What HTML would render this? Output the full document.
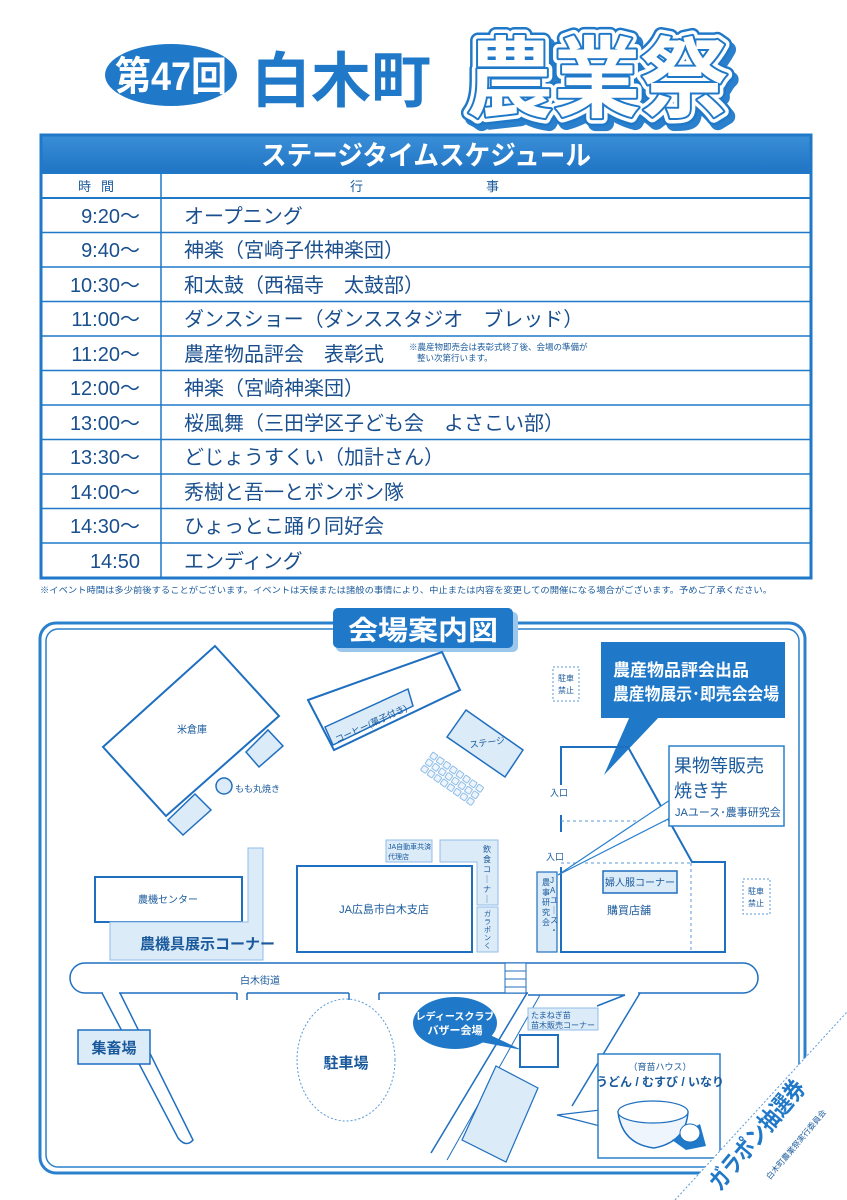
<!DOCTYPE html>
<html><head><meta charset="utf-8">
<style>
html,body{margin:0;padding:0;background:#fff;}
body{width:847px;height:1200px;position:relative;overflow:hidden;font-family:"Liberation Sans","Noto Sans CJK JP",sans-serif;color:#1a5a9c;}
</style></head><body>
<svg width="847" height="1200" viewBox="0 0 847 1200" style="position:absolute;left:0;top:0" font-family="Liberation Sans, Noto Sans CJK JP, sans-serif">
<defs>
<linearGradient id="hb" x1="0" y1="0" x2="0" y2="1"><stop offset="0" stop-color="#3b8fd8"/><stop offset="1" stop-color="#1f74c4"/></linearGradient>
</defs>
<!-- Header -->
<ellipse cx="171" cy="75" rx="66" ry="31" fill="#1f78c8"/>
<text x="171" y="90" text-anchor="middle" font-size="40" font-weight="bold" fill="#fff" textLength="112" lengthAdjust="spacingAndGlyphs">第47回</text>
<text x="341" y="102" text-anchor="middle" font-size="60" font-weight="bold" fill="#1f78c8" textLength="180" lengthAdjust="spacingAndGlyphs">白木町</text>
<text x="597" y="110" text-anchor="middle" font-size="88" font-weight="bold" fill="#2a80cc" stroke="#2a80cc" stroke-width="16" stroke-linejoin="round" textLength="262" lengthAdjust="spacingAndGlyphs" transform="translate(4,5)">農業祭</text>
<text x="597" y="110" text-anchor="middle" font-size="88" font-weight="bold" fill="#fff" stroke="#1f78c8" stroke-width="16" stroke-linejoin="round" textLength="262" lengthAdjust="spacingAndGlyphs">農業祭</text>
<text x="597" y="110" text-anchor="middle" font-size="88" font-weight="bold" fill="#fff" stroke="#fff" stroke-width="11" stroke-linejoin="round" textLength="262" lengthAdjust="spacingAndGlyphs">農業祭</text>
<text x="597" y="110" text-anchor="middle" font-size="88" font-weight="bold" fill="#fff" stroke="#1f78c8" stroke-width="4" stroke-linejoin="round" textLength="262" lengthAdjust="spacingAndGlyphs" paint-order="stroke">農業祭</text>

<!-- Table -->
<rect x="40" y="135" width="772" height="38" fill="url(#hb)"/>
<text x="426" y="165" text-anchor="middle" font-size="27" font-weight="bold" fill="#fff" textLength="330" lengthAdjust="spacingAndGlyphs">ステージタイムスケジュール</text>
<rect x="41" y="135" width="770" height="443" fill="none" stroke="#1f78c8" stroke-width="3"/>
<line x1="41" y1="173" x2="811" y2="173" stroke="#1f78c8" stroke-width="2"/>
<line x1="41" y1="198" x2="811" y2="198" stroke="#1f78c8" stroke-width="2"/>
<line x1="161" y1="173" x2="161" y2="578" stroke="#1f78c8" stroke-width="1.5"/>
<text x="101" y="191" text-anchor="middle" font-size="13" fill="#1a5a9c" letter-spacing="10">時間</text>
<text x="350" y="191" font-size="13" fill="#1a5a9c">行</text>
<text x="486" y="191" font-size="13" fill="#1a5a9c">事</text>
<g stroke="#1f78c8" stroke-width="1.5">
<line x1="41" y1="232.5" x2="811" y2="232.5"/><line x1="41" y1="267" x2="811" y2="267"/><line x1="41" y1="301.5" x2="811" y2="301.5"/><line x1="41" y1="336" x2="811" y2="336"/><line x1="41" y1="370.5" x2="811" y2="370.5"/><line x1="41" y1="405" x2="811" y2="405"/><line x1="41" y1="439.5" x2="811" y2="439.5"/><line x1="41" y1="474" x2="811" y2="474"/><line x1="41" y1="508.5" x2="811" y2="508.5"/><line x1="41" y1="543" x2="811" y2="543"/>
</g>
<g font-size="20" fill="#1a4f8e">
<text x="140" y="223" text-anchor="end">9:20～</text><text x="184" y="223">オープニング</text>
<text x="140" y="257" text-anchor="end">9:40～</text><text x="184" y="257">神楽（宮崎子供神楽団）</text>
<text x="140" y="292" text-anchor="end">10:30～</text><text x="184" y="292">和太鼓（西福寺　太鼓部）</text>
<text x="140" y="326" text-anchor="end">11:00～</text><text x="184" y="326">ダンスショー（ダンススタジオ　ブレッド）</text>
<text x="140" y="361" text-anchor="end">11:20～</text><text x="184" y="361">農産物品評会　表彰式</text>
<text x="140" y="395" text-anchor="end">12:00～</text><text x="184" y="395">神楽（宮崎神楽団）</text>
<text x="140" y="430" text-anchor="end">13:00～</text><text x="184" y="430">桜風舞（三田学区子ども会　よさこい部）</text>
<text x="140" y="464" text-anchor="end">13:30～</text><text x="184" y="464">どじょうすくい（加計さん）</text>
<text x="140" y="499" text-anchor="end">14:00～</text><text x="184" y="499">秀樹と吾一とボンボン隊</text>
<text x="140" y="533" text-anchor="end">14:30～</text><text x="184" y="533">ひょっとこ踊り同好会</text>
<text x="140" y="568" text-anchor="end">14:50</text><text x="184" y="568">エンディング</text>
</g>
<text x="409" y="350" font-size="8.5" fill="#1a5a9c">※農産物即売会は表彰式終了後、会場の準備が</text>
<text x="417" y="361" font-size="8.5" fill="#1a5a9c">整い次第行います。</text>
<text x="40" y="593" font-size="8.6" fill="#1a5a9c" textLength="732" lengthAdjust="spacingAndGlyphs">※イベント時間は多少前後することがございます。イベントは天候または諸般の事情により、中止または内容を変更しての開催になる場合がございます。予めご了承ください。</text>

<!-- Map frame -->
<rect x="40" y="623" width="765" height="550" rx="16" fill="none" stroke="#2a80cc" stroke-width="3"/>
<rect x="46" y="629" width="753" height="538" rx="12" fill="none" stroke="#2a80cc" stroke-width="1.5"/>
<rect x="336" y="612" width="182" height="40" rx="5" fill="#9cc7ec"/>
<rect x="333" y="608" width="180" height="40" rx="5" fill="#1f78c8"/>
<text x="423" y="640" text-anchor="middle" font-size="27" font-weight="bold" fill="#fff" textLength="150" lengthAdjust="spacingAndGlyphs">会場案内図</text>

<g stroke="#1f6fc0" stroke-width="2" fill="none">
<polygon points="215,646 279,716 166,816 103,747" fill="#fff"/>
<polygon points="246,752 268,730 283,746 259,767" fill="#dcebf8" stroke-width="1.5"/>
<polygon points="168,820 195,794 211,810 183,835" fill="#dcebf8" stroke-width="1.5"/>
<circle cx="224" cy="786" r="8" fill="#dcebf8" stroke-width="1.5"/>
<polygon points="308,700 442,652 460,690 334,750" fill="#fff"/>
<polygon points="325,727 408,689 413,706 333,745" fill="#dcebf8" stroke-width="1.5"/>
<polygon points="466,710 523,750 505,777 447,737" fill="#dcebf8" stroke-width="1.5"/>
</g>
<g fill="#eef5fc" stroke="#8fbde8" stroke-width="1">
<g transform="translate(433,752) rotate(35)">
<rect x="0" y="0" width="6" height="6" rx="1"/><rect x="8" y="0" width="6" height="6" rx="1"/><rect x="16" y="0" width="6" height="6" rx="1"/><rect x="24" y="0" width="6" height="6" rx="1"/><rect x="32" y="0" width="6" height="6" rx="1"/><rect x="40" y="0" width="6" height="6" rx="1"/><rect x="48" y="0" width="6" height="6" rx="1"/><rect x="56" y="0" width="6" height="6" rx="1"/>
<rect x="0" y="8" width="6" height="6" rx="1"/><rect x="8" y="8" width="6" height="6" rx="1"/><rect x="16" y="8" width="6" height="6" rx="1"/><rect x="24" y="8" width="6" height="6" rx="1"/><rect x="32" y="8" width="6" height="6" rx="1"/><rect x="40" y="8" width="6" height="6" rx="1"/><rect x="48" y="8" width="6" height="6" rx="1"/><rect x="56" y="8" width="6" height="6" rx="1"/>
<rect x="0" y="16" width="6" height="6" rx="1"/><rect x="8" y="16" width="6" height="6" rx="1"/><rect x="16" y="16" width="6" height="6" rx="1"/><rect x="24" y="16" width="6" height="6" rx="1"/><rect x="32" y="16" width="6" height="6" rx="1"/><rect x="40" y="16" width="6" height="6" rx="1"/><rect x="48" y="16" width="6" height="6" rx="1"/><rect x="56" y="16" width="6" height="6" rx="1"/>
</g></g>
<g font-size="10" fill="#1a5a9c">
<text x="177" y="733">米倉庫</text>
<text x="235" y="792" font-size="9">もも丸焼き</text>
<text x="337" y="743" font-size="9" transform="rotate(-25 337 743)">コーヒー(菓子付き)</text>
<text x="470" y="748" font-size="9" transform="rotate(-8 470 748)">ステージ</text>
</g>
<rect x="553" y="667" width="26" height="34" fill="none" stroke="#5a9ad8" stroke-dasharray="2,2"/>
<text x="566" y="681" font-size="8" text-anchor="middle" fill="#1a5a9c">駐車</text><text x="566" y="693" font-size="8" text-anchor="middle" fill="#1a5a9c">禁止</text>
<rect x="743" y="879" width="27" height="35" fill="none" stroke="#5a9ad8" stroke-dasharray="2,2"/>
<text x="756" y="894" font-size="8" text-anchor="middle" fill="#1a5a9c">駐車</text><text x="756" y="906" font-size="8" text-anchor="middle" fill="#1a5a9c">禁止</text>

<polygon points="630,716 660,716 604,775" fill="#1f78c8"/>
<rect x="601" y="642" width="184" height="76" fill="#1f78c8"/>
<text x="613" y="676" font-size="17" font-weight="bold" fill="#fff">農産物品評会出品</text>
<text x="613" y="700" font-size="17" font-weight="bold" fill="#fff" textLength="166" lengthAdjust="spacingAndGlyphs">農産物展示･即売会会場</text>

<g stroke="#1f6fc0" stroke-width="2" fill="none">
<polyline points="561,785 561,747 628,747 692,862 725,862 725,952 561,952 561,867"/>
<line x1="561" y1="815" x2="561" y2="832"/>
</g>
<g stroke="#5a9ad8" stroke-width="1" stroke-dasharray="3,3">
<line x1="561" y1="821" x2="670" y2="821"/><line x1="561" y1="863" x2="692" y2="863"/><line x1="691" y1="863" x2="691" y2="952"/>
</g>
<text x="550" y="796" font-size="9" fill="#1a5a9c">入口</text>
<text x="546" y="860" font-size="9" fill="#1a5a9c">入口</text>
<rect x="603" y="871" width="74" height="22" fill="#dcebf8" stroke="#1f6fc0" stroke-width="1.5"/>
<text x="640" y="886" font-size="10" text-anchor="middle" fill="#1a5a9c">婦人服コーナー</text>
<text x="607" y="914" font-size="11" fill="#1a5a9c">購買店舗</text>
<rect x="537" y="872" width="20" height="80" fill="#dcebf8" stroke="#1f6fc0" stroke-width="1.2"/>
<text font-size="8" fill="#1a5a9c"><tspan x="542" y="885">農</tspan><tspan x="542" y="895">事</tspan><tspan x="542" y="905">研</tspan><tspan x="542" y="915">究</tspan><tspan x="542" y="925">会</tspan></text>
<text font-size="8" fill="#1a5a9c"><tspan x="550" y="883">J</tspan><tspan x="550" y="893">A</tspan><tspan x="550" y="903">ユ</tspan><tspan x="550" y="913">｜</tspan><tspan x="550" y="923">ス</tspan><tspan x="550" y="933">・</tspan></text>

<polygon points="670,800 670,818 558,875" fill="#fff" stroke="#2a80cc" stroke-width="1.2"/>
<rect x="669" y="746" width="115" height="80" fill="#fff" stroke="#2a80cc" stroke-width="1.5"/>
<text x="674" y="772" font-size="18" fill="#1a5a9c">果物等販売</text>
<text x="674" y="797" font-size="18" fill="#1a5a9c">焼き芋</text>
<text x="675" y="816" font-size="11" fill="#1a5a9c">JAユース･農事研究会</text>

<rect x="95" y="877" width="147" height="45" fill="#fff" stroke="#1f6fc0" stroke-width="2"/>
<text x="168" y="903" font-size="10" text-anchor="middle" fill="#1a5a9c">農機センター</text>
<path d="M248,848 H263 V960 H110 V922 H248 Z" fill="#dcebf8" stroke="#8fbde8" stroke-width="1"/>
<text x="140" y="949" font-size="15" font-weight="bold" fill="#1a5a9c">農機具展示コーナー</text>
<rect x="297" y="866" width="175" height="86" fill="#fff" stroke="#1f6fc0" stroke-width="2"/>
<text x="384" y="913" font-size="11" text-anchor="middle" fill="#1a5a9c">JA広島市白木支店</text>
<rect x="386" y="840" width="46" height="22" fill="#dcebf8" stroke="#8fbde8"/>
<text x="388" y="849" font-size="7" fill="#1a5a9c">JA自動車共済</text><text x="388" y="859" font-size="7" fill="#1a5a9c">代理店</text>
<path d="M440,840 H498 V905 H477 V862 H440 Z" fill="#dcebf8" stroke="#8fbde8"/>
<text font-size="8" fill="#1a5a9c"><tspan x="483" y="852">飲</tspan><tspan x="483" y="862">食</tspan><tspan x="483" y="872">コ</tspan><tspan x="483" y="882">｜</tspan><tspan x="483" y="892">ナ</tspan><tspan x="483" y="902">｜</tspan></text>
<rect x="477" y="907" width="21" height="45" fill="#dcebf8" stroke="#8fbde8"/>
<text font-size="7" fill="#1a5a9c"><tspan x="484" y="916">ガ</tspan><tspan x="484" y="924">ラ</tspan><tspan x="484" y="932">ポ</tspan><tspan x="484" y="940">ン</tspan><tspan x="484" y="948">く</tspan></text>

<!-- road -->
<rect x="70" y="963" width="688" height="30" rx="15" fill="#fff" stroke="#1f6fc0" stroke-width="1.5"/>
<rect x="505" y="963" width="21" height="30" fill="#fff" stroke="#1f6fc0" stroke-width="1"/>
<line x1="505" y1="971" x2="526" y2="971" stroke="#1f6fc0"/><line x1="505" y1="979" x2="526" y2="979" stroke="#1f6fc0"/><line x1="505" y1="987" x2="526" y2="987" stroke="#1f6fc0"/>
<text x="240" y="984" font-size="10" fill="#1a5a9c">白木街道</text>
<g fill="#fff">
<rect x="103" y="990" width="16" height="6"/>
<rect x="237" y="990" width="10" height="6"/>
<rect x="349" y="990" width="30" height="6"/>
<rect x="528" y="990" width="110" height="6"/>
</g>
<g stroke="#1f6fc0" stroke-width="1.5" fill="none">
<path d="M102,993 L178,1138 Q186,1148 193,1140 L120,993"/>
<path d="M237,993 L237,1000 M247,993 L247,1000"/>
<path d="M349,993 L349,1000 M379,993 L379,1000"/>
<line x1="527" y1="993" x2="431" y2="1153"/>
<line x1="540" y1="995" x2="447" y2="1160" stroke-width="1"/>
<path d="M528,995 L625,995 L597,1006"/>
<line x1="640" y1="993" x2="572" y2="1106"/>
</g>
<ellipse cx="346" cy="1060" rx="49" ry="61" fill="none" stroke="#5a9ad8" stroke-dasharray="2,2"/>
<text x="346" y="1068" font-size="15" font-weight="bold" text-anchor="middle" fill="#1a5a9c">駐車場</text>
<rect x="528" y="1008" width="70" height="22" fill="#dcebf8" stroke="#8fbde8"/>
<text x="531" y="1018" font-size="8" fill="#1a5a9c">たまねぎ苗</text><text x="531" y="1028" font-size="8" fill="#1a5a9c">苗木販売コーナー</text>
<rect x="520" y="1035" width="38" height="32" fill="#fff" stroke="#1f6fc0" stroke-width="2"/>
<polygon points="496,1066 538,1088 506,1162 462,1140" fill="#dcebf8" stroke="#1f6fc0" stroke-width="1.2"/>
<polygon points="490,1035 470,1040 522,1050" fill="#1f78c8"/>
<ellipse cx="455" cy="1023" rx="42" ry="26" fill="#1f78c8"/>
<text x="455" y="1020" font-size="10" font-weight="bold" text-anchor="middle" fill="#fff">レディースクラブ</text>
<text x="455" y="1034" font-size="11" font-weight="bold" text-anchor="middle" fill="#fff">バザー会場</text>
<rect x="78" y="1030" width="72" height="34" fill="#dcebf8" stroke="#1f6fc0" stroke-width="1.5"/>
<text x="114" y="1053" font-size="15" font-weight="bold" text-anchor="middle" fill="#1a5a9c">集畜場</text>

<polygon points="600,1110 600,1126 557,1115" fill="#fff" stroke="#1f6fc0" stroke-width="1.2"/>
<rect x="598" y="1054" width="122" height="104" fill="#fff" stroke="#2a80cc" stroke-width="1.5"/>
<rect x="599" y="1108" width="3" height="20" fill="#fff"/>
<text x="660" y="1070" font-size="9" text-anchor="middle" fill="#1a5a9c">（育苗ハウス）</text>
<text x="660" y="1086" font-size="12" font-weight="bold" text-anchor="middle" fill="#1a5a9c">うどん / むすび / いなり</text>
<path d="M618,1112 Q656,1098 688,1112 Q686,1142 654,1148 Q622,1144 618,1112 Z" fill="#eef5fc" stroke="#1f6fc0" stroke-width="1.5"/>
<ellipse cx="653" cy="1112" rx="35" ry="11" fill="#fff" stroke="#1f6fc0" stroke-width="1.2"/>
<path d="M672,1140 L700,1124 L706,1146 L686,1150 Z" fill="#1f78c8"/>
<ellipse cx="690" cy="1133" rx="10" ry="9" fill="#fff" stroke="#1f6fc0"/>

<polygon points="675,1200 847,1012 847,1200" fill="#fff"/>
<line x1="675" y1="1200" x2="847" y2="1012" stroke="#5a9ad8" stroke-dasharray="2,2"/>
<text x="720" y="1192" font-size="24" font-weight="bold" fill="#1f78c8" transform="rotate(-50 720 1192)" textLength="135" lengthAdjust="spacingAndGlyphs">ガラポン抽選券</text>
<text x="770" y="1180" font-size="8" fill="#1a5a9c" transform="rotate(-50 770 1180)">白木町農業祭実行委員会</text>
</svg>
</body></html>
